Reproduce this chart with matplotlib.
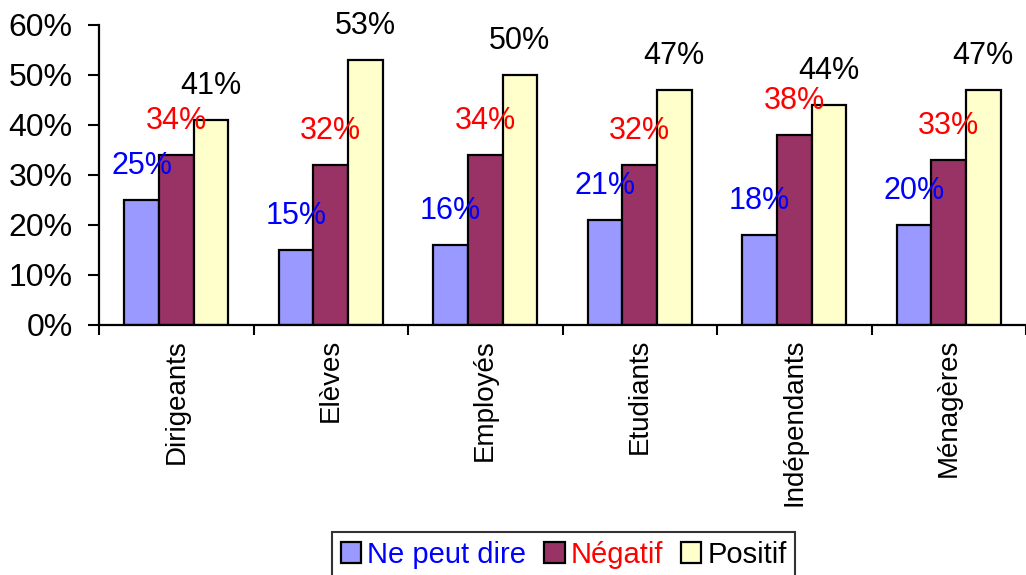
import numpy as np
import matplotlib
matplotlib.use("Agg")
import matplotlib.pyplot as plt
from matplotlib.ticker import FixedLocator, NullFormatter

plt.rcParams['font.family'] = ['Liberation Sans', 'DejaVu Sans']

categories = ["Dirigeants", "Elèves", "Employés", "Etudiants", "Indépendants", "Ménagères"]
series_names = ["Ne peut dire", "Négatif", "Positif"]
ne_peut_dire = [25, 15, 16, 21, 18, 20]
negatif = [34, 32, 34, 32, 38, 33]
positif = [41, 53, 50, 47, 44, 47]

values = [ne_peut_dire, negatif, positif]
fills = ["#9999FF", "#993366", "#FFFFCC"]
label_colors = ["#0000FF", "#FF0000", "#000000"]

fig = plt.figure(figsize=(10.26, 5.75), dpi=100)
ax = fig.add_axes([99 / 1026, 1 - 325 / 575, 1 - 99 / 1026, 300 / 575])

w = 0.224
centers = np.arange(len(categories)) + 0.5
for k, (vals, fc, lc, name) in enumerate(zip(values, fills, label_colors, series_names)):
    xs = centers + (k - 1) * w
    bars = ax.bar(xs, vals, w, color=fc, edgecolor="black", linewidth=1.6, label=name, zorder=2)
    for b, v in zip(bars, vals):
        ax.annotate(f"{v}%", (b.get_x() + b.get_width() / 2, v), xytext=(0, 14),
                    textcoords="offset points", ha="center", va="bottom",
                    fontsize=22, color=lc, zorder=3)

ax.set_xlim(0, len(categories))
ax.set_ylim(0, 60)
ax.set_yticks(range(0, 61, 10))
ax.set_yticklabels([f"{t}%" for t in range(0, 61, 10)], fontsize=23)
ax.xaxis.set_major_locator(FixedLocator(np.arange(len(categories) + 1)))
ax.xaxis.set_major_formatter(NullFormatter())
ax.set_xticks(centers, minor=True)
ax.set_xticklabels(categories, minor=True, rotation=90, fontsize=20, va="top")
ax.tick_params(axis="x", which="minor", length=0, pad=10)
ax.tick_params(axis="x", which="major", length=7, width=1.5, direction="out")
ax.tick_params(axis="y", length=8, width=1.5, direction="out", pad=11)
for s in ["top", "right"]:
    ax.spines[s].set_visible(False)
for s in ["left", "bottom"]:
    ax.spines[s].set_linewidth(1.6)

leg = fig.legend(loc="upper left", bbox_to_anchor=(332 / 1026, 1 - 532 / 575),
                 ncol=3, fontsize=21, frameon=True, fancybox=False,
                 edgecolor="black", handlelength=0.7, handleheight=0.7,
                 handletextpad=0.2, columnspacing=0.62, borderpad=0.3,
                 borderaxespad=0)
leg.get_frame().set_linewidth(1.5)
for t, c in zip(leg.get_texts(), label_colors):
    t.set_color(c)

fig.savefig("out.png", dpi=100)
